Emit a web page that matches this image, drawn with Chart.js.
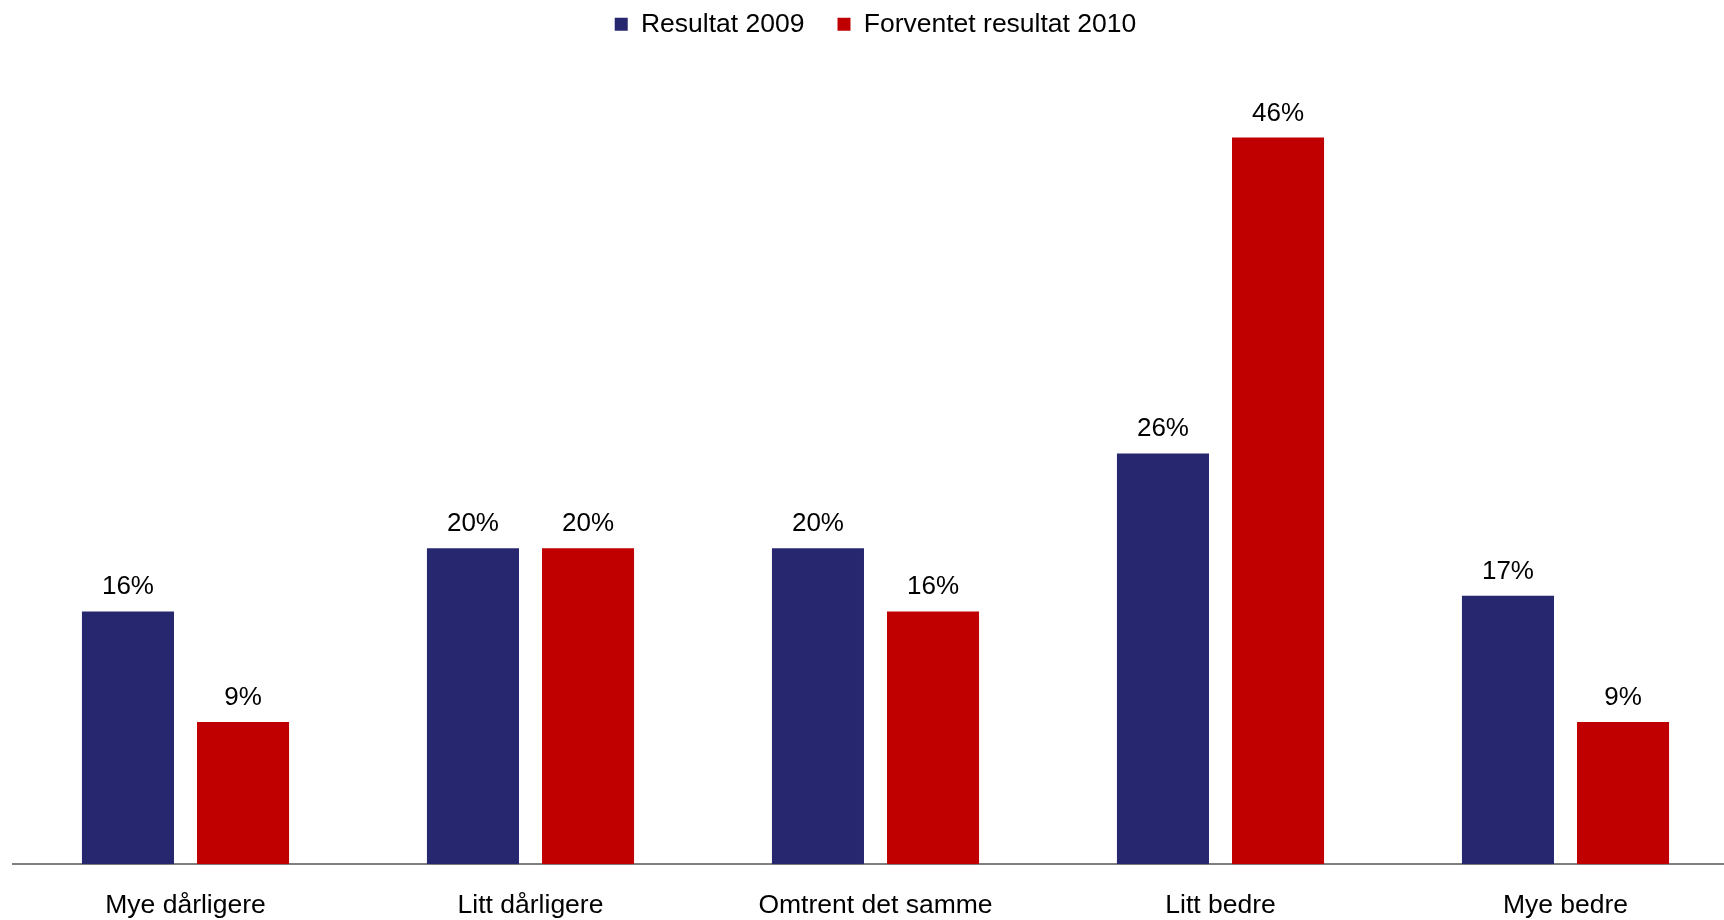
<!DOCTYPE html>
<html>
<head>
<meta charset="utf-8">
<script src="https://cdn.jsdelivr.net/npm/chart.js@4/dist/chart.umd.min.js"></script>
<style>
  html, body { margin: 0; padding: 0; background: #fff; overflow: hidden; }
  #wrap { width: 1738px; height: 920px; }
</style>
</head>
<body>
<div id="wrap"><canvas id="resultChart"></canvas></div>
<script>
const categories = ["Mye dårligere", "Litt dårligere", "Omtrent det samme", "Litt bedre", "Mye bedre"];
const result2009 = [16, 20, 20, 26, 17];
const expected2010 = [9, 20, 16, 46, 9];
const seriesNames = ["Resultat 2009", "Forventet resultat 2010"];

const FONT = "'Liberation Sans', Arial, sans-serif";

// draws "16%" etc. above every bar
const valueLabels = {
  id: "valueLabels",
  afterDatasetsDraw(chart) {
    const ctx = chart.ctx;
    ctx.save();
    ctx.font = "26px " + FONT;
    ctx.fillStyle = "#000";
    ctx.textAlign = "center";
    ctx.textBaseline = "alphabetic";
    chart.data.datasets.forEach((ds, i) => {
      chart.getDatasetMeta(i).data.forEach((bar, j) => {
        ctx.fillText(ds.data[j] + "%", bar.x, bar.y - 17);
      });
    });
    ctx.restore();
  }
};

const ctx = document.getElementById("resultChart").getContext("2d");
new Chart(ctx, {
  type: "bar",
  data: {
    labels: categories,
    datasets: [
      {
        label: seriesNames[0],
        data: result2009,
        backgroundColor: "#27276f",
        categoryPercentage: 0.667,
        barPercentage: 0.8
      },
      {
        label: seriesNames[1],
        data: expected2010,
        backgroundColor: "#c00000",
        categoryPercentage: 0.667,
        barPercentage: 0.8
      }
    ]
  },
  options: {
    responsive: true,
    maintainAspectRatio: false,
    animation: false,
    layout: { padding: { left: 13, right: 0, top: -22, bottom: -28 } },
    plugins: {
      legend: {
        position: "top",
        labels: {
          boxWidth: 13,
          boxHeight: 13,
          padding: 33,
          color: "#000",
          font: { family: FONT, size: 26.5 }
        }
      },
      tooltip: { enabled: false }
    },
    scales: {
      x: {
        grid: { display: false, drawTicks: false },
        border: { color: "#808080", width: 2 },
        ticks: {
          color: "#000",
          padding: 26,
          font: { family: FONT, size: 26.5 }
        }
      },
      y: {
        display: false,
        min: 0,
        max: 51.7
      }
    }
  },
  plugins: [valueLabels]
});
</script>
</body>
</html>
